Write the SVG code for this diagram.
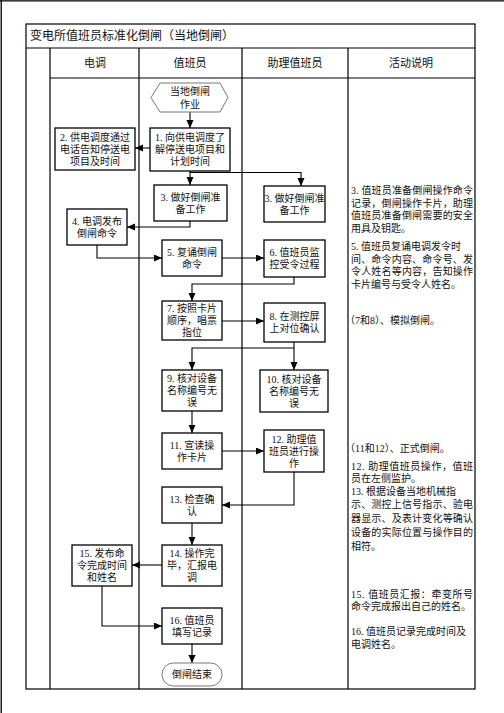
<svg xmlns="http://www.w3.org/2000/svg" width="504" height="713" viewBox="0 0 504 713">
<defs>
<marker id="ah" markerUnits="userSpaceOnUse" markerWidth="9" markerHeight="8" refX="8" refY="3.5" orient="auto">
<path d="M0,0 L8,3.5 L0,7 z" fill="#000"/>
</marker>
<style>
text{font-family:"Liberation Serif","Noto Sans CJK SC",serif;fill:#111;}
.t{font-size:12px;}
.h{font-size:11px;text-anchor:middle;}
.b{font-size:10px;text-anchor:middle;}
.n{font-size:10px;}
.grid{stroke:#000;stroke-width:1.2;fill:none;}
.box{fill:#fff;stroke:#000;stroke-width:1.3;}
.gbox{fill:#fff;stroke:#777;stroke-width:1;}
.c{fill:none;stroke:#000;stroke-width:1.1;}
.a{marker-end:url(#ah);}
</style>
</defs>
<rect width="504" height="713" fill="#fff"/>
<g id="frame">
<line x1="0" y1="0.8" x2="504" y2="0.8" stroke="#000" stroke-width="1.3"/>
<line x1="1.2" y1="0" x2="1.2" y2="713" stroke="#000" stroke-width="1.3"/>
<rect class="grid" x="26" y="24" width="449" height="665"/>
<line class="grid" x1="26" y1="48" x2="475" y2="48"/>
<line class="grid" x1="50" y1="78" x2="475" y2="78"/>
<line class="grid" x1="50" y1="48" x2="50" y2="689"/>
<line class="grid" x1="139" y1="48" x2="139" y2="689"/>
<line class="grid" x1="242" y1="48" x2="242" y2="689"/>
<line class="grid" x1="348" y1="48" x2="348" y2="689"/>
<text class="t" x="30" y="40">变电所值班员标准化倒闸（当地倒闸）</text>
<text class="h" x="95" y="67">电调</text>
<text class="h" x="190" y="67">值班员</text>
<text class="h" x="295" y="67">助理值班员</text>
<text class="h" x="411" y="67">活动说明</text>
</g>
<g id="connectors">
<path class="c a" d="M190,112 V128"/>
<path class="c a" d="M150,148 H135"/>
<path class="c a" d="M190,171 V185"/>
<path class="c a" d="M190,172.5 H301 V186"/>
<path class="c a" d="M190,221 V227 H127"/>
<path class="c a" d="M97,245 V258 H162"/>
<path class="c a" d="M222,258 H264"/>
<path class="c a" d="M294,277 V284 H192 V301"/>
<path class="c a" d="M222,321 H264"/>
<path class="c a" d="M294,348 H192 V370"/>
<path class="c a" d="M294,342 V370"/>
<path class="c a" d="M192,411 V433"/>
<path class="c a" d="M222,451 H264"/>
<path class="c a" d="M294,472 V505 H222"/>
<path class="c a" d="M192,523 V545"/>
<path class="c a" d="M162,565 H132"/>
<path class="c a" d="M102,586 V626 H162"/>
<path class="c a" d="M192,644 V663"/>
</g>
<g id="start">
<polygon class="gbox" points="151,97.5 160,83 220,83 228,97.5 220,112 160,112"/>
<text class="b" x="190" y="95">当地倒闸</text>
<text class="b" x="190" y="107.5">作业</text>
</g>
<g id="n1">
<rect class="box" x="150" y="128" width="80" height="43"/>
<text class="b" x="190" y="141.3">1. 向供电调度了</text>
<text class="b" x="190" y="153.3">解停送电项目和</text>
<text class="b" x="190" y="165.3">计划时间</text>
</g>
<g id="n2">
<rect class="box" x="55" y="128" width="80" height="42"/>
<text class="b" x="95" y="141">2. 供电调度通过</text>
<text class="b" x="95" y="153">电话告知停送电</text>
<text class="b" x="95" y="165">项目及时间</text>
</g>
<g id="n3">
<rect class="box" x="154" y="185" width="73" height="36"/>
<text class="b" x="190.5" y="200.8">3. 做好倒闸准</text>
<text class="b" x="190.5" y="212.8">备工作</text>
</g>
<g id="n3b">
<rect class="box" x="264" y="186" width="61" height="36"/>
<text class="b" x="294.5" y="201.8">3. 做好倒闸准</text>
<text class="b" x="294.5" y="213.8">备工作</text>
</g>
<g id="n4">
<rect class="box" x="67" y="209" width="60" height="36"/>
<text class="b" x="97" y="224.8">4. 电调发布</text>
<text class="b" x="97" y="236.8">倒闸命令</text>
</g>
<g id="n5">
<rect class="box" x="162" y="240" width="60" height="36"/>
<text class="b" x="192" y="255.8">5. 复诵倒闸</text>
<text class="b" x="192" y="267.8">命令</text>
</g>
<g id="n6">
<rect class="box" x="264" y="240" width="61" height="37"/>
<text class="b" x="294.5" y="256.3">6. 值班员监</text>
<text class="b" x="294.5" y="268.3">控受令过程</text>
</g>
<g id="n7">
<rect class="box" x="162" y="301" width="60" height="39"/>
<text class="b" x="192" y="312.3">7. 按照卡片</text>
<text class="b" x="192" y="324.3">顺序，唱票</text>
<text class="b" x="192" y="336.3">指位</text>
</g>
<g id="n8">
<rect class="box" x="264" y="303" width="61" height="39"/>
<text class="b" x="294.5" y="320.3">8. 在测控屏</text>
<text class="b" x="294.5" y="332.3">上对位确认</text>
</g>
<g id="n9">
<rect class="box" x="162" y="370" width="60" height="41"/>
<text class="b" x="192" y="382.3">9. 核对设备</text>
<text class="b" x="192" y="394.3">名称编号无</text>
<text class="b" x="192" y="406.3">误</text>
</g>
<g id="n10">
<rect class="box" x="260" y="370" width="68" height="42"/>
<text class="b" x="294" y="382.8">10. 核对设备</text>
<text class="b" x="294" y="394.8">名称编号无</text>
<text class="b" x="294" y="406.8">误</text>
</g>
<g id="n11">
<rect class="box" x="162" y="433" width="60" height="36"/>
<text class="b" x="192" y="448.8">11. 宣读操</text>
<text class="b" x="192" y="460.8">作卡片</text>
</g>
<g id="n12">
<rect class="box" x="264" y="430" width="60" height="42"/>
<text class="b" x="294" y="442.8">12. 助理值</text>
<text class="b" x="294" y="454.8">班员进行操</text>
<text class="b" x="294" y="466.8">作</text>
</g>
<g id="n13">
<rect class="box" x="162" y="487" width="60" height="36"/>
<text class="b" x="192" y="502.8">13. 检查确</text>
<text class="b" x="192" y="514.8">认</text>
</g>
<g id="n14">
<rect class="box" x="162" y="545" width="60" height="41"/>
<text class="b" x="192" y="557.3">14. 操作完</text>
<text class="b" x="192" y="569.3">毕，汇报电</text>
<text class="b" x="192" y="581.3">调</text>
</g>
<g id="n15">
<rect class="box" x="72" y="545" width="60" height="41"/>
<text class="b" x="102" y="557.3">15. 发布命</text>
<text class="b" x="102" y="569.3">令完成时间</text>
<text class="b" x="102" y="581.3">和姓名</text>
</g>
<g id="n16">
<rect class="box" x="162" y="608" width="60" height="36"/>
<text class="b" x="192" y="623.8">16. 值班员</text>
<text class="b" x="192" y="635.8">填写记录</text>
</g>
<g id="end">
<rect class="gbox" x="162" y="663" width="60" height="23" rx="11.5"/>
<text class="b" x="192" y="678.3">倒闸结束</text>
</g>
<g id="notes">
<text class="n" x="351" y="194" textLength="122" lengthAdjust="spacing">3. 值班员准备倒闸操作命令</text>
<text class="n" x="351" y="206.5" textLength="122" lengthAdjust="spacing">记录，倒闸操作卡片，助理</text>
<text class="n" x="351" y="219" textLength="122" lengthAdjust="spacing">值班员准备倒闸需要的安全</text>
<text class="n" x="351" y="231.5">用具及钥匙。</text>
<text class="n" x="351" y="250">5. 值班员复诵电调发令时</text>
<text class="n" x="351" y="262.5" textLength="122" lengthAdjust="spacing">间、命令内容、命令号、发</text>
<text class="n" x="351" y="275" textLength="122" lengthAdjust="spacing">令人姓名等内容，告知操作</text>
<text class="n" x="351" y="287.5">卡片编号与受令人姓名。</text>
<text class="n" x="345" y="323.5">（7和8）、模拟倒闸。</text>
<text class="n" x="345" y="451.5">（11和12）、正式倒闸。</text>
<text class="n" x="351" y="469.5" textLength="122" lengthAdjust="spacing">12. 助理值班员操作，值班</text>
<text class="n" x="351" y="482">员在左侧监护。</text>
<text class="n" x="351" y="494.5">13. 根据设备当地机械指</text>
<text class="n" x="351" y="508" textLength="122" lengthAdjust="spacing">示、测控上信号指示、验电</text>
<text class="n" x="351" y="522" textLength="122" lengthAdjust="spacing">器显示、及表计变化等确认</text>
<text class="n" x="351" y="536" textLength="122" lengthAdjust="spacing">设备的实际位置与操作目的</text>
<text class="n" x="351" y="550">相符。</text>
<text class="n" x="351" y="597.5" textLength="122" lengthAdjust="spacing">15. 值班员汇报：牵变所号</text>
<text class="n" x="351" y="610">命令完成报出自己的姓名。</text>
<text class="n" x="351" y="634.5">16. 值班员记录完成时间及</text>
<text class="n" x="351" y="647.5">电调姓名。</text>
</g>
</svg>
